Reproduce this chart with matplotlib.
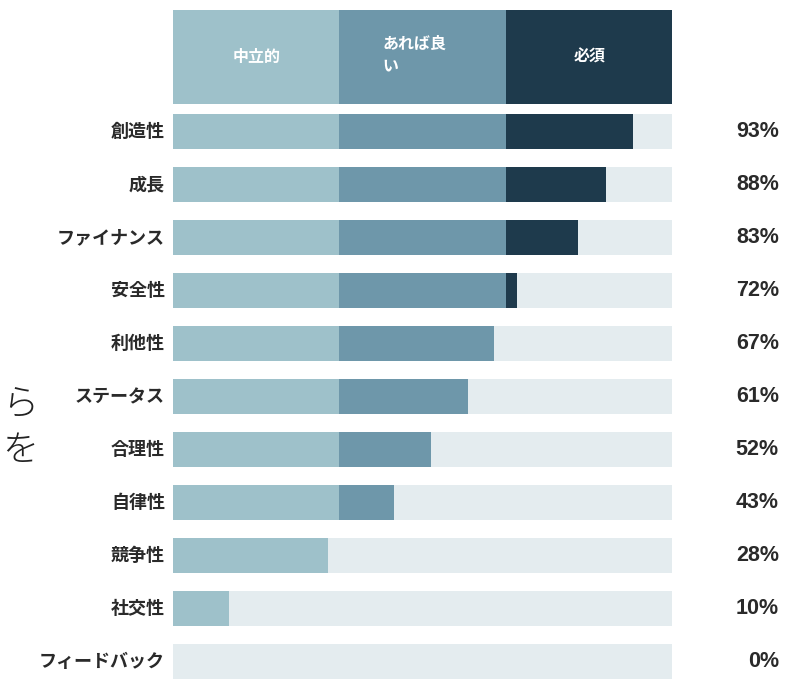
import numpy as np
import matplotlib
matplotlib.use("Agg")
import matplotlib.pyplot as plt

plt.rcParams['font.family'] = ['Noto Sans CJK JP', 'DejaVu Sans']

categories = ['創造性', '成長', 'ファイナンス', '安全性', '利他性', 'ステータス',
              '合理性', '自律性', '競争性', '社交性', 'フィードバック']
# bar lengths as drawn (0-100 scale)
bar_values = [92.2, 86.8, 81.2, 68.9, 64.3, 59.1, 51.7, 44.3, 31.1, 11.2, 0.0]
pct_labels = ['93%', '88%', '83%', '72%', '67%', '61%', '52%', '43%', '28%', '10%', '0%']
levels = ['中立的', 'あれば良\nい', '必須']
bounds = [0, 100 / 3, 200 / 3, 100]

c_light = '#9ec1ca'
c_mid = '#6e97aa'
c_dark = '#1e3a4c'
c_bg = '#e4ecef'
seg_colors = [c_light, c_mid, c_dark]

fig = plt.figure(figsize=(7.96, 6.8), dpi=100)
ax = fig.add_axes([173 / 796, 0, 499 / 796, 1])
ax.set_xlim(0, 100)
ax.set_ylim(10.349, -2.481)
ax.axis('off')

vals = np.array(bar_values)
y = np.arange(len(categories))
h = 0.66

ax.barh(y, 100, height=h, color=c_bg, linewidth=0)
for i in range(3):
    w = np.clip(vals - bounds[i], 0, bounds[i + 1] - bounds[i])
    ax.barh(y, w, left=bounds[i], height=h, color=seg_colors[i], linewidth=0)

# header
hy = -1.406
hh = 1.774
for i in range(3):
    ax.barh(hy, bounds[i + 1] - bounds[i], left=bounds[i], height=hh,
            color=seg_colors[i], linewidth=0)
ax.text(16.8, hy, levels[0], color='white', fontsize=11.5, fontweight='bold',
        ha='center', va='center')
ax.text(41.9, hy - 0.04, levels[1], color='white', fontsize=11.5, fontweight='bold',
        ha='left', va='center', linespacing=1.45)
ax.text(83.5, hy, levels[2], color='white', fontsize=11.5, fontweight='bold',
        ha='center', va='center')

for i, (cat, lab) in enumerate(zip(categories, pct_labels)):
    ax.text(-1.6, i, cat, fontsize=13, fontweight='bold', color='#2a2a2a',
            ha='right', va='center')
    ax.text(121.4, i, lab, fontsize=15.5, fontweight='bold', color='#2a2a2a',
            ha='right', va='center', family=['Liberation Sans', 'DejaVu Sans'])

# partial text at the left edge
fig.text(38 / 796, 1 - 428 / 680, 'ら\nを', fontsize=26, fontweight='light',
         color='#222222', ha='right', va='center', multialignment='right',
         linespacing=1.25)

fig.savefig('out.png', dpi=100)
